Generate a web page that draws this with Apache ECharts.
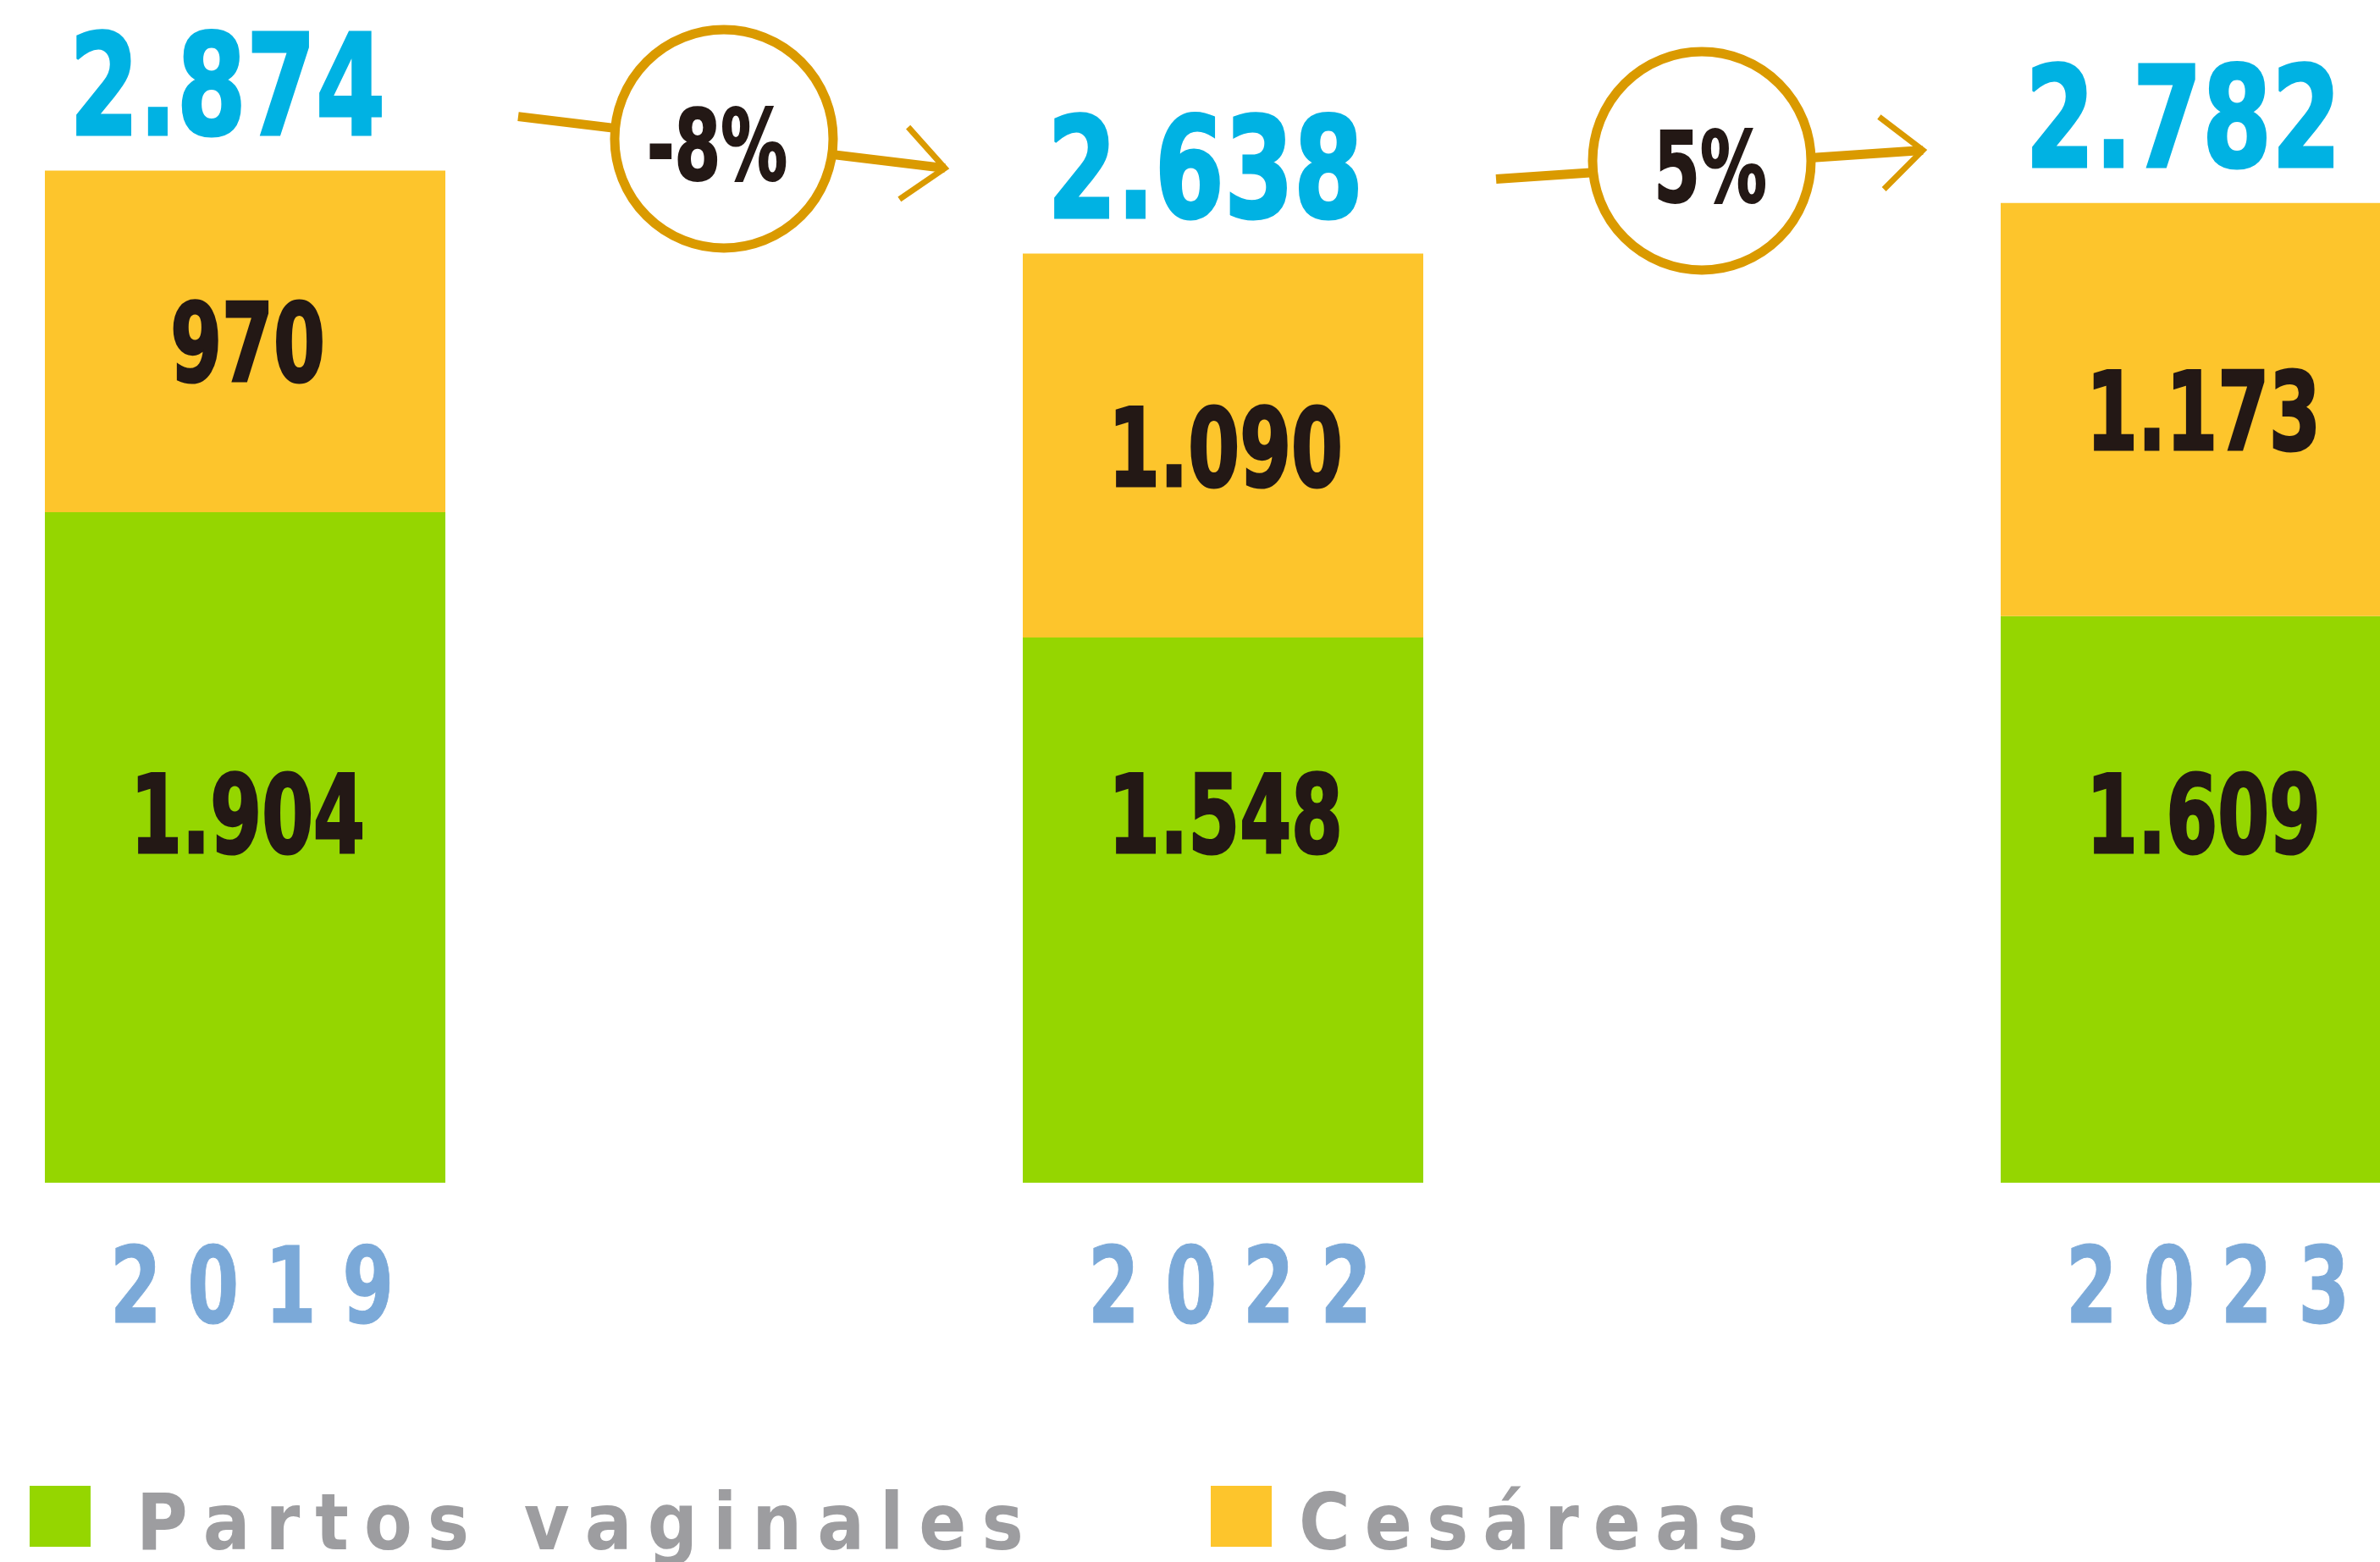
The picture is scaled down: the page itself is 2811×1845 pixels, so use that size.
<!DOCTYPE html>
<html>
<head>
<meta charset="utf-8">
<script src="https://cdn.jsdelivr.net/npm/echarts@6/dist/echarts.min.js"></script>
<style>
  html, body { margin: 0; padding: 0; background: #fff; }
  #chart { width: 2811px; height: 1845px; }
</style>
</head>
<body>
<div id="chart"></div>
<script>
// datos
const years = ['2019', '2022', '2023'];
const vaginales = [1904, 1548, 1609];
const cesareas = [970, 1090, 1173];
const totals = [2874, 2638, 2782];

const FONT = "'DejaVu Sans Condensed', 'DejaVu Sans', sans-serif";
const GOLD = '#DA9A00';
const INK = '#231815';

// 2874 -> "2.874"
function fmt(v) {
    return String(v).replace(/\B(?=(\d{3})+(?!\d))/g, '.');
}
// texto espaciado para la leyenda (una caja rich por letra)
function spacedRich(s) {
    return s.split('').map((ch) => '{c|' + ch + '}').join('');
}
// texto estrecho: la fuente condensada disponible es ancha, se comprime en x
function narrowText(x, y, text, size, color, sx, lw) {
    return {
        type: 'text',
        x: x,
        y: y,
        scaleX: sx,
        style: {
            text: text,
            fontFamily: FONT,
            fontWeight: 'bold',
            fontSize: size,
            fill: color,
            stroke: lw ? color : null,
            lineWidth: lw || 0,
            align: 'center',
            verticalAlign: 'middle',
            textAlign: 'center',
            textVerticalAlign: 'middle'
        }
    };
}
function legendText(padLeft, gap) {
    return {
        padding: [30, 0, 0, padLeft],
        rich: {
            c: {
                color: '#9D9DA0',
                fontFamily: FONT,
                fontWeight: 'bold',
                fontSize: 92,
                padding: [0, gap, 0, 0]
            }
        }
    };
}

let chart = echarts.init(document.getElementById('chart'));

let tableData = years.map((y, i) => [i, vaginales[i], cesareas[i], totals[i]]);

let option = {
    animation: false,
    grid: { left: 289.5, right: 211.5, top: 149, bottom: 448, outerBoundsMode: 'none' },
    legend: [
        {
            data: ['Partos vaginales'], left: 30, top: 1750, icon: 'rect',
            itemWidth: 72, itemHeight: 72, formatter: spacedRich, textStyle: legendText(49, 18)
        },
        {
            data: ['Cesáreas'], left: 1425, top: 1750, icon: 'rect',
            itemWidth: 72, itemHeight: 72, formatter: spacedRich, textStyle: legendText(27, 17)
        }
    ],
    xAxis: {
        type: 'category',
        data: years,
        boundaryGap: false,
        axisLine: { show: false },
        axisTick: { show: false },
        axisLabel: { show: false }
    },
    yAxis: {
        type: 'value',
        min: 0,
        max: 3000,
        show: false
    },
    series: [
        {
            name: 'Partos vaginales',
            type: 'bar',
            stack: 'total',
            data: vaginales,
            barWidth: 473,
            clip: false,
            itemStyle: { color: '#95D600' }
        },
        {
            name: 'Cesáreas',
            type: 'bar',
            stack: 'total',
            data: cesareas,
            barWidth: 473,
            clip: false,
            itemStyle: { color: '#FDC52C' }
        },
        {
            // etiquetas: totales, valores de cada tramo y años
            name: 'Etiquetas',
            type: 'custom',
            data: tableData,
            encode: { x: 0, y: 3 },
            clip: false,
            z: 5,
            renderItem: function (params, api) {
                let i = api.value(0);
                let v = api.value(1);
                let c = api.value(2);
                let base = api.coord([i, 0]);
                let top = api.coord([i, api.value(3)]);
                let mid = api.coord([i, v + c / 2]);
                return {
                    type: 'group',
                    children: [
                        narrowText(top[0] - 21, top[1] - 86, fmt(api.value(3)), 166, '#00B2E3', 0.79, 3),
                        narrowText(mid[0] + 3, mid[1] + 14, fmt(c), 128, INK, 0.76, 3),
                        narrowText(base[0] + 3, base[1] - 423, fmt(v), 128, INK, 0.76, 3),
                        narrowText(base[0] + 8, base[1] + 133, years[i].split('').join(' '), 125, '#7BA9D8', 0.78, 1)
                    ]
                };
            }
        }
    ]
};
chart.setOption(option);

// flechas con porcentaje de cambio entre años
let px = years.map((y) => chart.convertToPixel({ xAxisIndex: 0 }, y));
let circleY = [164, 190];
let rise = [61, -34];
let graphics = [];
for (let i = 0; i < years.length - 1; i++) {
    let pct = Math.round((totals[i + 1] - totals[i]) / totals[i] * 100);
    let cx = (px[i] + px[i + 1]) / 2 - 12;
    let cy = circleY[i];
    let slope = rise[i] / 504;
    let x1 = cx - 243, y1 = cy - slope * 243 + (i === 0 ? 3 : 5);
    let x2 = cx + 261, y2 = cy + slope * 261 + (i === 0 ? 3 : 5);
    let back = Math.atan2(y1 - y2, x1 - x2);
    let arm = (a) => [x2 + 65 * Math.cos(back + a), y2 + 65 * Math.sin(back + a)];
    graphics.push(
        { type: 'line', z: 10, shape: { x1: x1, y1: y1, x2: x2, y2: y2 }, style: { stroke: GOLD, lineWidth: 11 } },
        { type: 'polyline', z: 10, shape: { points: [arm(0.72), [x2, y2], arm(-0.72)] }, style: { stroke: GOLD, lineWidth: 7, fill: null } },
        { type: 'circle', z: 11, shape: { cx: cx, cy: cy, r: 129 }, style: { fill: '#fff', stroke: GOLD, lineWidth: 11 } },
        Object.assign(narrowText(cx + (i === 0 ? -8 : 10), cy + 18, pct + '%', 115, INK, 0.76, 2), { z: 12 })
    );
}
chart.setOption({ graphic: graphics });
</script>
</body>
</html>
